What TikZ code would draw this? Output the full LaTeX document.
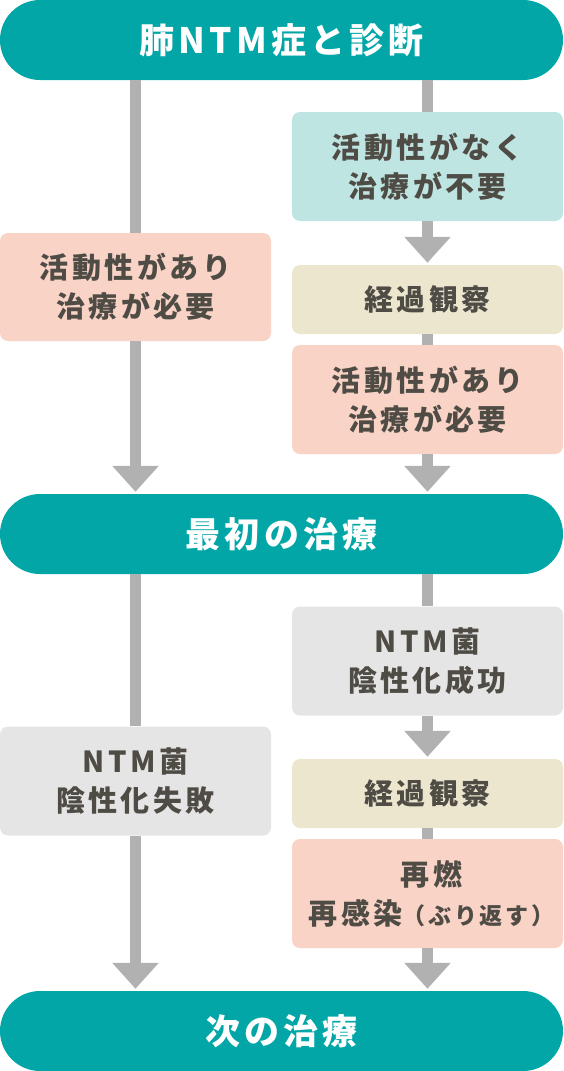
\documentclass[tikz,border=0pt]{standalone}
\usepackage{fontspec}
\setmainfont{Noto Sans CJK JP}[LetterSpace=12]
\usetikzlibrary{arrows.meta}
\definecolor{ntmteal}{HTML}{02A6A6}
\definecolor{ntmquiet}{HTML}{BFE5E3}
\definecolor{ntmwatch}{HTML}{EDE6CF}
\definecolor{ntmneed}{HTML}{F8D3C6}
\definecolor{ntmgreyd}{HTML}{E5E5E5}
\definecolor{ntmgrey}{HTML}{B1B1B1}
\definecolor{ntmtext}{HTML}{4F4B45}
\newcommand{\ntmboxfont}{\fontsize{29}{39}\selectfont\bfseries}
\newcommand{\ntmbarfont}{\fontsize{35}{40}\selectfont\bfseries}
\tikzset{
  bar/.style       = {fill=ntmteal, rounded corners=40pt, inner sep=0pt,
                      minimum width=563pt, minimum height=80pt,
                      text=white, font=\ntmbarfont},
  ntmbox/.style    = {rounded corners=8pt, align=center, inner sep=0pt,
                      minimum width=271pt, minimum height=109pt,
                      text=ntmtext, font=\ntmboxfont},
  quietbox/.style  = {ntmbox, fill=ntmquiet},
  watchbox/.style  = {ntmbox, fill=ntmwatch, minimum height=69pt},
  needbox/.style   = {ntmbox, fill=ntmneed},
  labbox/.style    = {ntmbox, fill=ntmgreyd},
  %
  link/.style      = {draw=ntmgrey, line width=11pt},
  flow/.style      = {link, -{Triangle[length=26pt,width=45pt]}, shorten >=2pt},
}
\begin{document}
\begin{tikzpicture}[x=1pt, y=-1pt]
  \useasboundingbox (0,0) rectangle (563,1071);

  % ---------- main bars ---------------------------------------------------
  \node[bar] (diag)  at (281.5,40)   {肺NTM症と診断};
  \node[bar] (first) at (281.5,534)  {最初の治療};
  \node[bar] (next)  at (281.5,1031) {次の治療};

  % ---------- left column -------------------------------------------------
  \node[needbox, minimum height=108pt] (need1) at (135.5,287) {活動性があり\\治療が必要};
  \node[labbox] (fail) at (135.5,781) {NTM菌\\陰性化失敗};

  % ---------- right column ------------------------------------------------
  \node[quietbox] (none)    at (427.5,166.5) {活動性がなく\\治療が不要};
  \node[watchbox] (watch1)  at (427.5,299.5) {経過観察};
  \node[needbox]  (need2)   at (427.5,399.5) {活動性があり\\治療が必要};
  \node[labbox]   (ok)      at (427.5,661)   {NTM菌\\陰性化成功};
  \node[watchbox] (watch2)  at (427.5,793.5) {経過観察};
  \node[needbox]  (relapse) at (427.5,893.5)
      {\hspace*{8pt}再燃\\\hspace*{8pt}再感染{\fontsize{23}{39}\selectfont（ぶり返す）}};

  % ---------- before the first treatment ----------------------------------
  \draw[link] (diag.south -| need1) -- (need1.north);
  \draw[flow] (need1.south) -- (first.north -| need1);
  \draw[link] (diag.south -| none) -- (none.north);
  \draw[flow] (none.south) -- (watch1.north);
  \draw[link] (watch1.south) -- (need2.north);
  \draw[flow] (need2.south) -- (first.north -| need2);

  % ---------- after the first treatment -----------------------------------
  \draw[link] (first.south -| fail) -- (fail.north);
  \draw[flow] (fail.south) -- (next.north -| fail);
  \draw[link] (first.south -| ok) -- (ok.north);
  \draw[flow] (ok.south) -- (watch2.north);
  \draw[link] (watch2.south) -- (relapse.north);
  \draw[flow] (relapse.south) -- (next.north -| relapse);

\end{tikzpicture}
\end{document}
